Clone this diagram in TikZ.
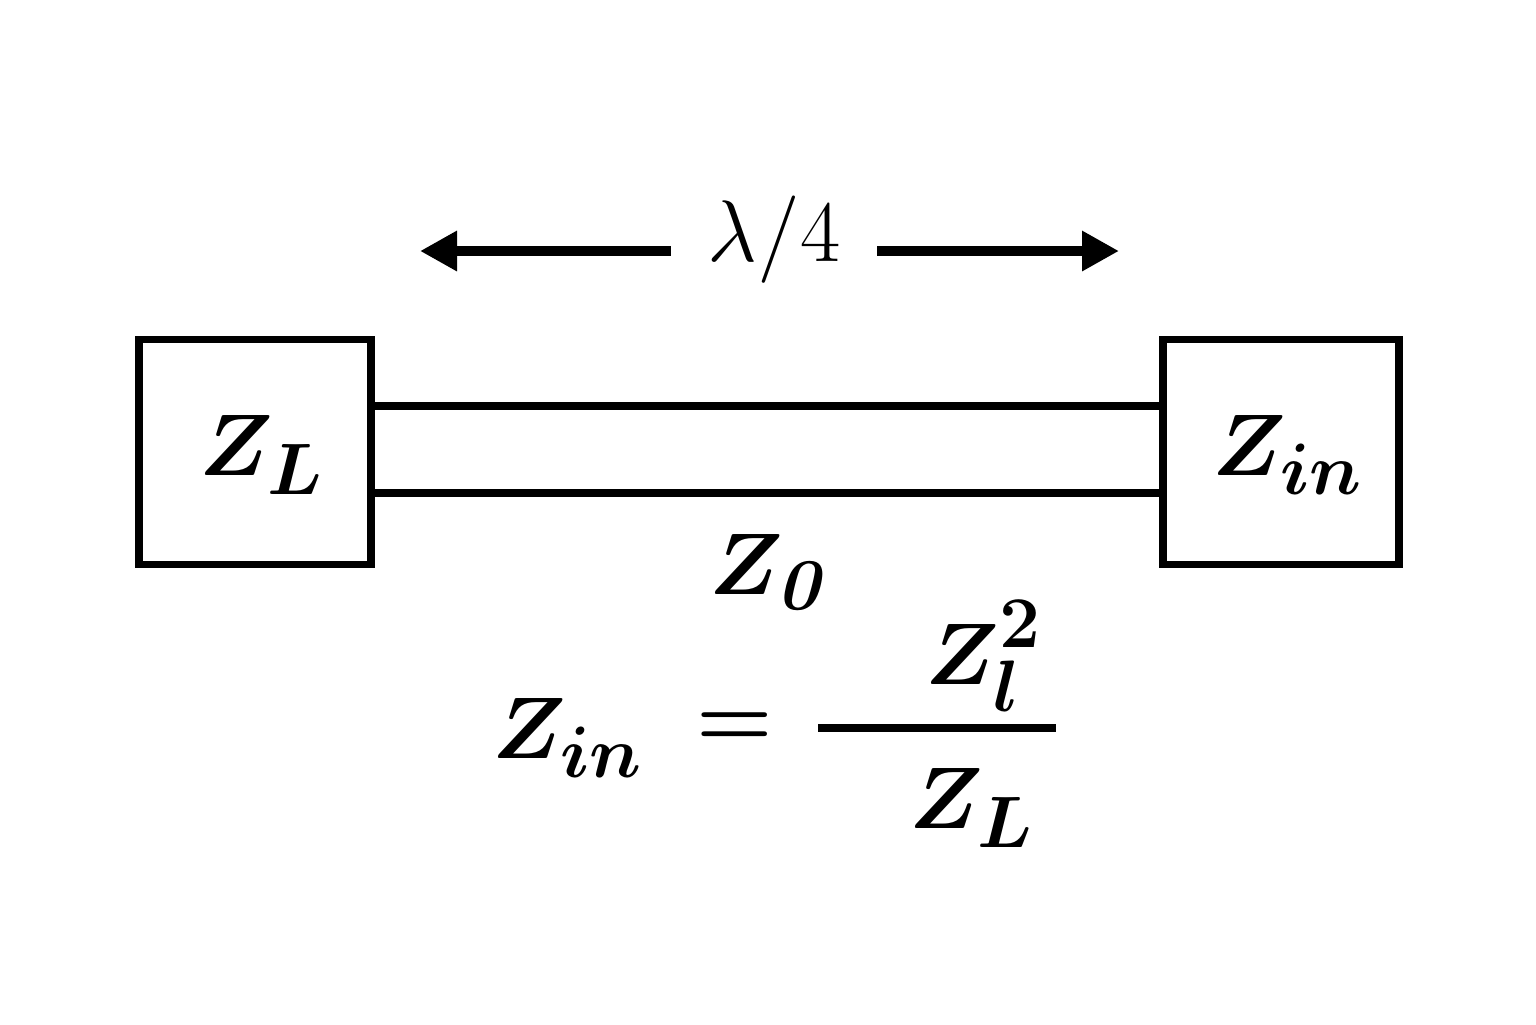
\documentclass[tikz,border=0pt]{standalone}
\usetikzlibrary{arrows.meta}

\begin{document}
\begin{tikzpicture}[line width=2.2pt, >={Triangle[length=0.37cm,width=0.38cm]}]
    \tikzstyle{load}=[draw, rectangle, minimum width=2.32cm, minimum height=2.25cm, inner sep=0pt]
    \tikzstyle{label}=[inner sep=0pt, font=\fontsize{29}{35}\selectfont\boldmath]
    \tikzstyle{span}=[line width=2.8pt, ->]

    \useasboundingbox (0,0) rectangle (15.36,-10.24);

    % Draw the load and input boxes
    \node[load] (ZL) at (2.55,-4.52) {};
    \node[load, minimum width=2.36cm] (Zin) at (12.81,-4.52) {};
    \node[label] at (2.62,-4.55) {$Z_L$};
    \node[label] at (12.88,-4.55) {$Z_{in}$};

    % Draw the quarter-wave line between the boxes
    \draw (ZL.east |- 0,-4.06) -- (Zin.west |- 0,-4.06);
    \draw (ZL.east |- 0,-4.93) -- (Zin.west |- 0,-4.93);
    \node[label] (Z0) at (7.70,-5.72) {$Z_{\mathit{0}}$};

    % Annotate the length
    \coordinate (left tip) at (4.20,-2.51);
    \coordinate (right tip) at (11.19,-2.51);
    \node[inner xsep=0.33cm, inner ysep=0pt, font=\fontsize{27}{32}\selectfont] (lambda) at (7.74,-2.40) {$\lambda/4$};
    \draw[span] (lambda.west |- left tip) -- (left tip);
    \draw[span] (lambda.east |- right tip) -- (right tip);

    % The matching formula
    \node[label] (zin) at (5.68,-7.38) {$Z_{in}$};
    \node[label] (eq) at (7.35,-7.30) {$=$};
    \coordinate (bar left) at (8.18,-7.28);
    \coordinate (bar right) at (10.56,-7.28);
    \draw (bar left) -- (bar right);
    \node[label] (num) at (9.84,-6.56) {$Z_{l}^{\raisebox{0.06em}{$\scriptstyle 2$}}$};
    \node[label] (den) at (9.72,-8.08) {$Z_L$};
\end{tikzpicture}
\end{document}
